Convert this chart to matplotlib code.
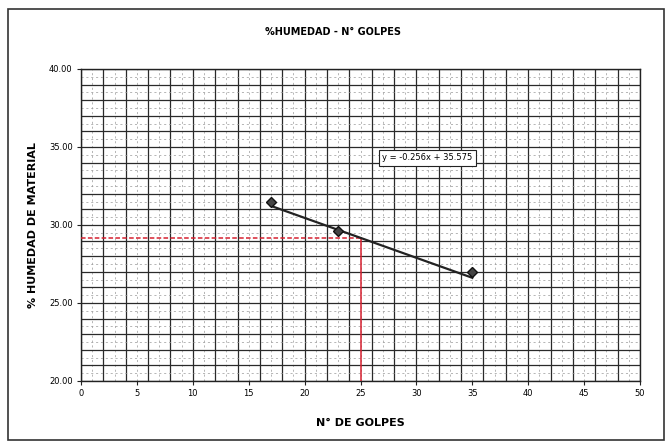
import numpy as np
import matplotlib
matplotlib.use('Agg')
import matplotlib.pyplot as plt
from matplotlib.patches import Rectangle

# data
golpes = [17, 23, 35]
humedad = [31.5, 29.6, 27.0]
slope = -0.256
intercept = 35.575
n_golpes = 25
x_ticks = [0, 5, 10, 15, 20, 25, 30, 35, 40, 45, 50]
y_ticks = [20, 25, 30, 35, 40]

w_25 = slope * n_golpes + intercept

fig = plt.figure(figsize=(6.66, 4.48), dpi=100)
fig.patches.append(Rectangle((0.012, 0.018), 0.985, 0.962, transform=fig.transFigure,
                             fill=False, edgecolor='#333333', linewidth=1.2))
ax = fig.add_axes([0.1216, 0.1496, 0.8394, 0.6964])

ax.set_xlim(0, 50)
ax.set_ylim(20, 40)
ax.set_xticks(x_ticks)
ax.set_yticks(y_ticks)
ax.set_yticklabels(['%.2f' % v for v in y_ticks])

# grid
for xv in np.arange(0, 50.01, 1):
    if int(round(xv)) % 2 == 0:
        ax.axvline(xv, color='#2a2a2a', lw=0.9, zorder=1)
    else:
        ax.axvline(xv, color='#999999', lw=0.5, ls=(0, (3, 4)), zorder=1)
for yv in np.arange(20, 40.01, 0.5):
    if abs(yv - round(yv)) < 1e-6:
        ax.axhline(yv, color='#2a2a2a', lw=0.9, zorder=1)
    else:
        ax.axhline(yv, color='#999999', lw=0.5, ls=(0, (3, 4)), zorder=1)

# red reading lines
ax.plot([0, n_golpes], [w_25, w_25], color='#d62030', lw=1.1, ls=(0, (3, 1.5)), zorder=3)
ax.plot([n_golpes, n_golpes], [20, w_25], color='#d62030', lw=1.1, zorder=3)

# trend line and points
xs = np.array([min(golpes), max(golpes)])
ax.plot(xs, slope * xs + intercept, color='#222222', lw=1.6, zorder=4)
ax.plot(golpes, humedad, marker='D', ls='none', ms=5, color='#444444',
        markeredgecolor='#111111', zorder=5)

ax.text(31, 34.3, 'y = -0.256x + 35.575', fontsize=6, ha='center', va='center',
        bbox=dict(boxstyle='square,pad=0.4', fc='white', ec='#222222', lw=0.8), zorder=6)

for s in ax.spines.values():
    s.set_color('#222222')
    s.set_linewidth(1.0)
ax.tick_params(labelsize=6, length=3, color='#222222', pad=3)

fig.text(0.5, 0.928, '%HUMEDAD - N° GOLPES', ha='center', va='center',
         fontsize=7, fontweight='bold')
ax.set_xlabel('N° DE GOLPES', fontsize=8, fontweight='bold', labelpad=14)
ax.set_ylabel('% HUMEDAD DE MATERIAL', fontsize=8, fontweight='bold', labelpad=8)

fig.savefig('out.png', dpi=100)
